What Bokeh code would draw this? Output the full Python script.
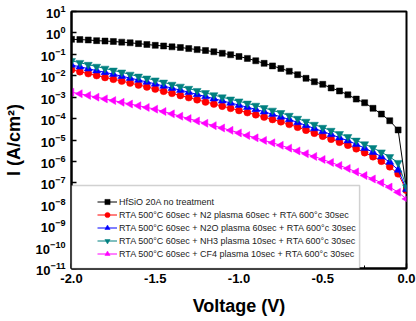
import numpy as np
from bokeh.plotting import figure
from bokeh.models import (Legend, LegendItem, BoxAnnotation, FixedTicker,
                          NumeralTickFormatter)
from bokeh.embed import file_html
from bokeh.resources import INLINE

# Gate voltage sweep (V)
voltage = [-2.00, -1.95, -1.90, -1.85, -1.80, -1.75, -1.70, -1.65, -1.60, -1.55,
           -1.50, -1.45, -1.40, -1.35, -1.30, -1.25, -1.20, -1.15, -1.10, -1.05,
           -1.00, -0.95, -0.90, -0.85, -0.80, -0.75, -0.70, -0.65, -0.60, -0.55,
           -0.50, -0.45, -0.40, -0.35, -0.30, -0.25, -0.20, -0.15, -0.10, -0.05,
           0.00]

# log10 of leakage current density (A/cm^2) for each treatment
log_j_untreated = [-0.30, -0.31, -0.33, -0.36, -0.38, -0.40, -0.43, -0.46, -0.50, -0.54,
                   -0.58, -0.61, -0.65, -0.68, -0.73, -0.78, -0.82, -0.88, -0.95, -1.02,
                   -1.10, -1.19, -1.30, -1.42, -1.54, -1.66, -1.79, -1.95, -2.12, -2.28,
                   -2.40, -2.57, -2.71, -2.89, -3.09, -3.26, -3.52, -3.79, -4.10, -4.53,
                   -7.30]
log_j_n2 = [-1.72, -1.81, -1.90, -1.99, -2.08, -2.16, -2.25, -2.34, -2.43, -2.52,
            -2.62, -2.72, -2.82, -2.92, -3.02, -3.12, -3.22, -3.32, -3.42, -3.52,
            -3.62, -3.72, -3.82, -3.93, -4.04, -4.15, -4.27, -4.40, -4.54, -4.68,
            -4.82, -4.96, -5.10, -5.24, -5.41, -5.59, -5.78, -5.99, -6.25, -6.58,
            -7.35]
log_j_n2o = [-1.50, -1.58, -1.67, -1.76, -1.84, -1.93, -2.02, -2.11, -2.20, -2.29,
             -2.38, -2.48, -2.58, -2.67, -2.77, -2.87, -2.97, -3.07, -3.17, -3.27,
             -3.37, -3.47, -3.57, -3.68, -3.80, -3.92, -4.04, -4.18, -4.32, -4.46,
             -4.60, -4.74, -4.89, -5.03, -5.20, -5.38, -5.57, -5.78, -6.03, -6.40,
             -7.30]
log_j_nh3 = [-1.30, -1.39, -1.48, -1.57, -1.66, -1.75, -1.84, -1.94, -2.03, -2.12,
             -2.21, -2.31, -2.41, -2.50, -2.60, -2.70, -2.80, -2.90, -3.00, -3.10,
             -3.19, -3.29, -3.39, -3.50, -3.62, -3.73, -3.86, -4.00, -4.14, -4.28,
             -4.42, -4.56, -4.71, -4.85, -5.02, -5.19, -5.37, -5.57, -5.79, -6.06,
             -7.20]
log_j_cf4 = [-2.77, -2.84, -2.92, -3.00, -3.08, -3.16, -3.24, -3.32, -3.40, -3.48,
             -3.56, -3.67, -3.78, -3.89, -4.00, -4.11, -4.22, -4.33, -4.44, -4.55,
             -4.67, -4.79, -4.90, -5.02, -5.13, -5.25, -5.38, -5.51, -5.64, -5.77,
             -5.91, -6.05, -6.19, -6.33, -6.49, -6.66, -6.82, -7.00, -7.20, -7.44,
             -7.75]

series_labels = [
    "HfSiO 20A no treatment",
    "RTA 500°C 60sec + N2 plasma 60sec + RTA 600°c 30sec",
    "RTA 500°C 60sec + N2O plasma 60sec + RTA 600°c 30sec",
    "RTA 500°C 60sec + NH3 plasma 10sec + RTA 600°c 30sec",
    "RTA 500°C 60sec + CF4 plasma 10sec + RTA 600°c 30sec",
]
series_colors = ["#000000", "#ff0000", "#0000ff", "#008080", "#ff00ff"]
series_markers = ["square", "circle", "triangle", "inverted_triangle", "triangle"]
series_sizes = [6, 7, 8, 8, 8]
series_angles = [0.0, 0.0, 0.0, 0.0, np.pi / 2]

x_ticks = [-2.0, -1.5, -1.0, -0.5, 0.0]
x_minor_ticks = [-1.75, -1.25, -0.75, -0.25]
y_tick_exponents = [-11, -10, -9, -8, -7, -6, -5, -4, -3, -2, -1, 0, 1]

X_MIN, X_MAX = -2.0, 0.0
LOG_Y_MIN, LOG_Y_MAX = -11, 1

FONT = "Liberation Sans"

p = figure(width=416, height=321, x_range=(X_MIN, X_MAX),
           y_range=(10.0 ** LOG_Y_MIN, 10.0 ** LOG_Y_MAX),
           y_axis_type="log", output_backend="svg", toolbar_location=None,
           min_border_left=64, min_border_right=10, min_border_top=11,
           min_border_bottom=53)
p.background_fill_color = "white"
p.border_fill_color = "white"
p.outline_line_color = "black"
p.outline_line_width = 2
p.xgrid.visible = False
p.ygrid.visible = False

items = []
all_series = [log_j_untreated, log_j_n2, log_j_n2o, log_j_nh3, log_j_cf4]
for logs, label, color, marker, size, angle in zip(all_series, series_labels, series_colors,
                                                   series_markers, series_sizes, series_angles):
    j = [10.0 ** v for v in logs]
    ln = p.line(voltage, j, line_color=color, line_width=1)
    sc = p.scatter(voltage, j, marker=marker, size=size, angle=angle,
                   fill_color=color, line_color=color, line_width=0.5)
    items.append(LegendItem(label=label, renderers=[ln, sc]))

# Axes
p.xaxis.ticker = FixedTicker(ticks=x_ticks, minor_ticks=x_minor_ticks)
p.xaxis.formatter = NumeralTickFormatter(format="0.0")
p.yaxis.ticker = FixedTicker(ticks=[10.0 ** k for k in y_tick_exponents])
for ax in (p.xaxis, p.yaxis):
    ax.axis_line_color = "black"
    ax.axis_line_width = 2
    ax.major_tick_in = 5
    ax.major_tick_out = 0
    ax.major_tick_line_color = "black"
    ax.major_tick_line_width = 1.5
    ax.minor_tick_in = 3
    ax.minor_tick_out = 0
    ax.minor_tick_line_color = "black"
    ax.major_label_text_font = FONT
    ax.major_label_text_font_style = "bold"
    ax.major_label_text_font_size = "13px"
    ax.major_label_text_color = "black"
    ax.axis_label_text_font = FONT
    ax.axis_label_text_font_style = "bold"
    ax.axis_label_text_font_size = "18px"
    ax.axis_label_text_color = "black"
p.xaxis.major_label_standoff = 5
p.yaxis.major_label_standoff = 6
p.xaxis.axis_label = "Voltage (V)"
p.yaxis.axis_label = "I (A/cm²)"
p.xaxis.axis_label_standoff = 10
p.yaxis.axis_label_standoff = 9

# Legend frame: white panel in the lower-left corner of the plot area
box_w_frac, box_h_frac = 0.86, 0.323
box = BoxAnnotation(left=X_MIN, right=X_MIN + box_w_frac * (X_MAX - X_MIN),
                    bottom=10.0 ** LOG_Y_MIN,
                    top=10.0 ** (LOG_Y_MIN + box_h_frac * (LOG_Y_MAX - LOG_Y_MIN)),
                    fill_color="white", fill_alpha=1.0,
                    line_color="#666666", line_width=1.5, level="annotation")
p.add_layout(box)

legend = Legend(items=items, location=(21, 3), padding=5, spacing=0,
                glyph_width=20, glyph_height=13, label_height=13, label_standoff=2,
                label_text_font=FONT, label_text_font_size="9px",
                label_text_color="#222222",
                background_fill_alpha=0.0, border_line_alpha=0.0)
p.add_layout(legend)

open("out.html", "w").write(file_html(p, INLINE))
